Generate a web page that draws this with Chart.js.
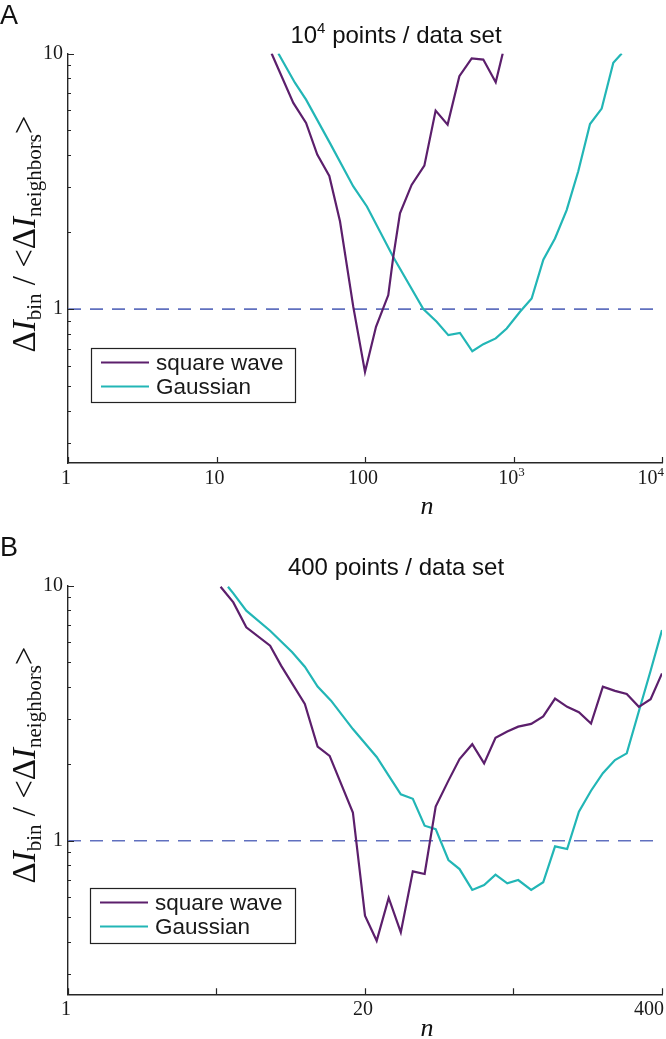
<!DOCTYPE html>
<html>
<head>
<meta charset="utf-8">
<script src="https://cdn.jsdelivr.net/npm/chart.js@4.4.0/dist/chart.umd.min.js"></script>
<style>
  body { margin: 0; background: #fff; }
  canvas { display: block; }
</style>
</head>
<body>
<canvas id="panelA" width="666" height="520"></canvas>
<canvas id="panelB" width="666" height="519"></canvas>
<script>
// ---- data, panel A (10^4 points / data set)
const aSquareN = [23.5, 32.9, 40.1, 47.7, 57.5, 67.9, 83.4, 100, 118.6, 143.5, 155, 172, 206, 251, 299, 360, 432, 523, 626, 759, 846];
const aSquareV = [10, 6.41, 5.35, 4.02, 3.32, 2.20, 1.02, 0.568, 0.853, 1.135, 1.60, 2.37, 3.06, 3.64, 5.98, 5.27, 8.15, 9.56, 9.47, 7.72, 10];
const aGaussN = [26.1, 33.8, 40.1, 58.1, 83.4, 103, 155, 247, 304, 364, 436, 528, 626, 759, 900, 1106, 1325, 1588, 1902, 2280, 2730, 3275, 3925, 4700, 5355];
const aGaussV = [10, 7.67, 6.60, 4.46, 3.02, 2.52, 1.60, 1.0, 0.892, 0.791, 0.807, 0.684, 0.729, 0.768, 0.840, 0.976, 1.10, 1.56, 1.89, 2.44, 3.46, 5.30, 6.09, 9.20, 10];
const aXTicks = [1, 10, 100, 1000, 10000];
const aXLabels = ['1', '10', '100', '10^3', '10^4'];

// ---- data, panel B (400 points / data set)
const bSquareN = [4.66, 5.30, 6.04, 7.68, 8.58, 10.9, 12.4, 14.0, 17.7, 20.0, 22.5, 25.4, 28.7, 32.4, 36.5, 40.8, 46.4, 51.9, 59.0, 66.5, 74.6, 84.0, 93.8, 106.9, 120.7, 136.0, 153.7, 173.0, 195.5, 220.3, 248.9, 280.3, 316.7, 356.6, 400];
const bSquareV = [9.91, 8.60, 6.87, 5.82, 4.86, 3.44, 2.34, 2.15, 1.29, 0.508, 0.405, 0.596, 0.437, 0.758, 0.740, 1.36, 1.72, 2.09, 2.39, 2.01, 2.53, 2.68, 2.80, 2.87, 3.07, 3.61, 3.35, 3.19, 2.88, 4.02, 3.87, 3.76, 3.35, 3.59, 4.53];
const bGaussN = [5.02, 5.30, 6.04, 7.68, 9.60, 10.9, 12.4, 14.2, 17.7, 22.5, 25.4, 28.7, 32.4, 36.5, 40.8, 46.4, 51.9, 59.0, 66.5, 74.6, 84.0, 93.8, 106.9, 120.7, 136.0, 153.7, 173.0, 195.5, 220.3, 248.9, 280.3, 316.7, 356.6, 400];
const bGaussV = [9.91, 9.33, 7.98, 6.66, 5.48, 4.81, 4.02, 3.54, 2.74, 2.13, 1.80, 1.52, 1.46, 1.145, 1.11, 0.840, 0.774, 0.641, 0.670, 0.736, 0.680, 0.701, 0.641, 0.687, 0.950, 0.927, 1.30, 1.57, 1.84, 2.07, 2.20, 3.22, 4.64, 6.70];
const bXTicks = [1, 4.47, 20, 89.4, 400];
const bXLabels = ['1', '', '20', '', '400'];

// shared y axis
const yTicks = [0.3, 0.4, 0.5, 0.6, 0.7, 0.8, 0.9, 1, 2, 3, 4, 5, 6, 7, 8, 9, 10];
const yLabeled = [1, 10];
const yMin = 0.25, yMax = 10;
const seriesNames = ['square wave', 'Gaussian'];

const PURPLE = '#5c1f6c';
const CYAN = '#22b6b6';
const DASH = '#6070bf';
const INK = '#262626';
const SERIF = '"Liberation Serif", "Times New Roman", serif';
const SANS = '"Liberation Sans", Arial, sans-serif';

const toPts = (ns, vs) => ns.map((n, i) => ({ x: n, y: vs[i] }));

// parts: [text, font, dy]; align is 'center' or 'right'
function drawRich(ctx, parts, x, y, align) {
    let w = 0;
    parts.forEach(p => { ctx.font = p[1]; w += ctx.measureText(p[0]).width; });
    let cx = align === 'right' ? x - w : x - w / 2;
    parts.forEach(p => {
        ctx.font = p[1];
        ctx.fillText(p[0], cx, y + (p[2] || 0));
        cx += ctx.measureText(p[0]).width;
    });
}

// '10^3' -> base + raised exponent
function tickParts(label) {
    const [base, exp] = label.split('^');
    const parts = [[base, '20px ' + SERIF]];
    if (exp) parts.push([exp, '13px ' + SERIF, -8]);
    return parts;
}

function makeDecor(p) {
    return {
        id: 'decor',
        afterDatasetsDraw(chart) {
            const { ctx, chartArea: ca } = chart;
            const xs = chart.scales.x, ys = chart.scales.y;
            ctx.save();
            // inward ticks, matlab style
            ctx.strokeStyle = INK;
            ctx.lineWidth = 1.2;
            ctx.beginPath();
            ys.ticks.forEach(t => {
                const py = Math.round(ys.getPixelForValue(t.value)) + 0.5;
                const len = yLabeled.includes(t.value) ? 6 : 3;
                ctx.moveTo(ca.left, py);
                ctx.lineTo(ca.left + len, py);
            });
            xs.ticks.forEach(t => {
                const px = Math.round(xs.getPixelForValue(t.value)) + 0.5;
                ctx.moveTo(px, ca.bottom);
                ctx.lineTo(px, ca.bottom - 6);
            });
            ctx.stroke();

            // x tick labels, last one kept inside the canvas
            ctx.fillStyle = '#1a1a1a';
            ctx.textAlign = 'left';
            ctx.textBaseline = 'alphabetic';
            xs.ticks.forEach((t, i) => {
                const lab = p.xLabels[i];
                if (!lab) return;
                const px = xs.getPixelForValue(t.value);
                const last = i === xs.ticks.length - 1;
                drawRich(ctx, tickParts(lab), last ? ca.right + 2 : px - 2, ca.bottom + 21, last ? 'right' : 'center');
            });

            // legend box
            const lg = p.legend;
            ctx.fillStyle = '#fff';
            ctx.fillRect(lg.left, lg.top, lg.right - lg.left, lg.bottom - lg.top);
            ctx.strokeStyle = '#222';
            ctx.lineWidth = 1.2;
            ctx.strokeRect(lg.left + 0.5, lg.top + 0.5, lg.right - lg.left, lg.bottom - lg.top);
            chart.data.datasets.filter(d => seriesNames.includes(d.label)).forEach((d, i) => {
                const ry = lg.top + 14.5 + i * 24;
                ctx.strokeStyle = d.borderColor;
                ctx.lineWidth = 2;
                ctx.beginPath();
                ctx.moveTo(lg.left + 10, ry);
                ctx.lineTo(lg.left + 58, ry);
                ctx.stroke();
                ctx.fillStyle = '#1a1a1a';
                ctx.font = '22.5px ' + SANS;
                ctx.textBaseline = 'middle';
                ctx.textAlign = 'left';
                ctx.fillText(d.label, lg.left + 65, ry + 1);
            });

            // title, panel letter, axis titles
            ctx.fillStyle = '#111';
            ctx.textBaseline = 'alphabetic';
            ctx.textAlign = 'left';
            drawRich(ctx, p.title, 396, p.titleY);
            ctx.font = '27px ' + SANS;
            ctx.fillText(p.letter, 0, p.letterY);

            ctx.font = 'italic 26px ' + SERIF;
            ctx.textAlign = 'center';
            ctx.fillText('n', 427, p.nY);
            ctx.textAlign = 'left';

            ctx.translate(35, p.yLabelMid);
            ctx.rotate(-Math.PI / 2);
            const big = '33px ' + SERIF, it = 'italic 33px ' + SERIF, sub = '21px ' + SERIF;
            drawRich(ctx, [
                ['Δ', big], ['I', it], ['bin', sub, 6], [' / <Δ', big],
                ['I', it], ['neighbors', sub, 6], ['>', big]
            ], 0, 0);
            ctx.restore();
        }
    };
}

function makePanel(p) {
    const fixX = s => { s.height = p.xAxisH; s.paddingLeft = 0; s.paddingRight = 0; };
    const fixY = s => { s.width = 68; s.paddingTop = 0; s.paddingBottom = 0; };
    return new Chart(document.getElementById(p.id), {
        type: 'line',
        data: {
            datasets: [
                { label: seriesNames[0], data: toPts(p.sqN, p.sqV), borderColor: PURPLE, borderWidth: 2.2 },
                { label: seriesNames[1], data: toPts(p.gaN, p.gaV), borderColor: CYAN, borderWidth: 2.2 },
                { label: 'ref', data: [{ x: p.xTicks[0], y: 1 }, { x: p.xTicks[p.xTicks.length - 1], y: 1 }],
                  borderColor: DASH, borderWidth: 1.6, borderDash: [13, 9] }
            ]
        },
        options: {
            responsive: false,
            animation: false,
            devicePixelRatio: 1,
            elements: { point: { radius: 0 }, line: { tension: 0, fill: false } },
            layout: { padding: { left: 0, right: 4, top: p.plotTop, bottom: 0 } },
            plugins: { legend: { display: false }, tooltip: { enabled: false }, title: { display: false } },
            scales: {
                x: {
                    type: 'logarithmic',
                    min: p.xTicks[0],
                    max: p.xTicks[p.xTicks.length - 1],
                    afterBuildTicks: s => { s.ticks = p.xTicks.map(v => ({ value: v })); },
                    afterFit: fixX,
                    grid: { display: false, drawTicks: false },
                    border: { display: true, color: INK, width: 1.4 },
                    ticks: { display: false }
                },
                y: {
                    type: 'logarithmic',
                    min: yMin,
                    max: yMax,
                    afterBuildTicks: s => { s.ticks = yTicks.map(v => ({ value: v })); },
                    afterFit: fixY,
                    grid: { display: false, drawTicks: false },
                    border: { display: true, color: INK, width: 1.4 },
                    ticks: {
                        autoSkip: false, padding: 5, color: '#1a1a1a',
                        font: { family: SERIF, size: 20 },
                        callback: v => yLabeled.includes(v) ? String(v) : ''
                    }
                }
            }
        },
        plugins: [makeDecor(p)]
    });
}

makePanel({
    id: 'panelA', letter: 'A', letterY: 24,
    title: [['10', '24px ' + SANS], ['4', '15px ' + SANS, -10], [' points / data set', '24px ' + SANS]],
    titleY: 43, plotTop: 53.5, xAxisH: 57, nY: 514, yLabelMid: 234,
    legend: { left: 91, top: 348, right: 295, bottom: 402 },
    sqN: aSquareN, sqV: aSquareV, gaN: aGaussN, gaV: aGaussV,
    xTicks: aXTicks, xLabels: aXLabels
});

makePanel({
    id: 'panelB', letter: 'B', letterY: 36,
    title: [['400 points / data set', '24px ' + SANS]],
    titleY: 55, plotTop: 65.7, xAxisH: 44.8, nY: 516, yLabelMid: 245,
    legend: { left: 90, top: 368, right: 295, bottom: 423 },
    sqN: bSquareN, sqV: bSquareV, gaN: bGaussN, gaV: bGaussV,
    xTicks: bXTicks, xLabels: bXLabels
});
</script>
</body>
</html>
